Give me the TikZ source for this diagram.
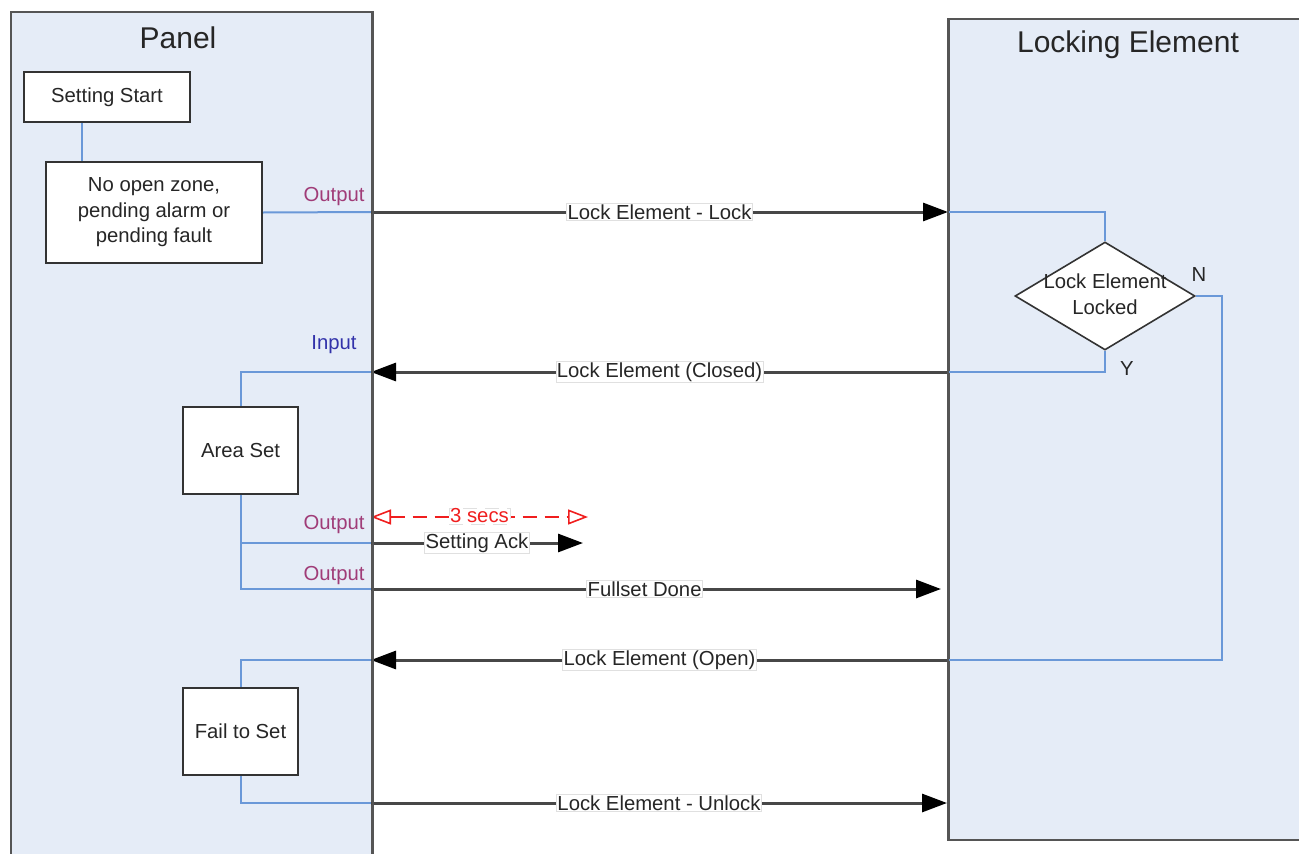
\documentclass[tikz,border=0pt]{standalone}
\usepackage{fontspec}
\setmainfont{Liberation Sans}
\usetikzlibrary{arrows.meta,shapes.geometric}
\definecolor{panelfill}{RGB}{229,236,247}
\definecolor{borderc}{RGB}{85,85,85}
\definecolor{connc}{RGB}{106,152,216}
\definecolor{outc}{RGB}{160,60,120}
\definecolor{inc}{RGB}{50,50,170}
\definecolor{timerc}{RGB}{240,30,30}
\begin{document}
\begin{tikzpicture}[x=1pt,y=-1pt,
  every node/.style={font=\fontsize{20.3}{25.5}\selectfont, text=black!85},
  lane/.style={draw=borderc, line width=2.2pt, fill=panelfill, anchor=north west, inner sep=0},
  lanetitle/.style={font=\fontsize{30}{33}\selectfont, text=black!85},
  stepbox/.style={draw=black!80, line width=2pt, fill=white, align=center, inner sep=0},
  decision/.style={draw=black!80, line width=1.6pt, fill=white, diamond, inner sep=0},
  conn/.style={draw=connc, line width=2pt},
  msg/.style={draw=black!72, line width=3pt, -{Triangle[length=25pt,width=18pt]}, arrows={[color=black]}},
  lbl/.style={fill=white, draw=black!12, line width=0.5pt, inner sep=1pt},
  timer/.style={draw=timerc, line width=1.6pt, dash pattern=on 14pt off 8pt, {Triangle[open,length=20pt,width=15pt]}-{Triangle[open,length=20pt,width=15pt]}},
  portout/.style={text=outc},
  portin/.style={text=inc}
]
\useasboundingbox (0,0) rectangle (1299,854);
\clip (0,0) rectangle (1299,854);

% swimlanes
\node[lane, minimum width=361, minimum height=900] (panel) at (10,11) {};
\node[lanetitle] (paneltitle) at (178,38) {Panel};
\node[lane, minimum width=420, minimum height=821] (lock) at (948,18) {};
\node[lanetitle] (locktitle) at (1128,45) {Locking Element};

% panel steps
\node[stepbox, minimum width=166, minimum height=50] (start) at (107,97) {Setting Start};
\node[stepbox, minimum width=216, minimum height=101] (nozone) at (154,212.5) {No open zone,\\pending alarm or\\pending fault};
\node[stepbox, minimum width=115, minimum height=87] (areaset) at (240.5,450.5) {Area Set};
\node[stepbox, minimum width=115, minimum height=87] (fail) at (240.5,731.5) {Fail to Set};

% decision
\node[decision, minimum width=180, minimum height=108] (dec) at (1105,296) {};
\node[align=center] (dectext) at (1105,294) {Lock Element\\Locked};
\node (nlbl) at (1199,275) {N};
\node (ylbl) at (1127,369) {Y};

% port coordinates on lane borders
\coordinate (p1) at (371,212);
\coordinate (l1) at (948,212);
\coordinate (p2) at (371,372);
\coordinate (l2) at (948,372);
\coordinate (p3) at (371,543);
\coordinate (a3) at (583,543);
\coordinate (p4) at (371,589);
\coordinate (l4) at (941,589);
\coordinate (p5) at (371,660);
\coordinate (l5) at (948,660);
\coordinate (p6) at (371,803);
\coordinate (l6) at (947,803);
\coordinate (t1) at (371,517);
\coordinate (t2) at (588,517);

% port labels
\node[portout] (o1) at (334,197) {Output};
\node[portin] (i1) at (334,345) {Input};
\node[portout] (o2) at (334,525) {Output};
\node[portout] (o3) at (334,576) {Output};

% blue flow connectors
\draw[conn] ([xshift=-25pt]start.south) -- ([xshift=-25pt]start.south |- nozone.north);
\draw[conn] (nozone.east) -- (p1);
\draw[conn] (l1) -- (l1 -| dec.north) -- (dec.north);
\draw[conn] (dec.east) -- (1222,296) -- (1222,660) -- (l5);
\draw[conn] (dec.south) -- (dec.south |- l2) -- (l2);
\draw[conn] (p2) -- (p2 -| areaset.north) -- (areaset.north);
\draw[conn] (areaset.south) -- (areaset.south |- p4) -- (p4);
\draw[conn] (areaset.south |- p3) -- (p3);
\draw[conn] (p5) -- (p5 -| fail.north) -- (fail.north);
\draw[conn] (fail.south) -- (fail.south |- p6) -- (p6);

% messages
\draw[msg] (p1) -- (l1) node[midway, lbl] (m1) {Lock Element - Lock};
\draw[msg] (l2) -- (p2) node[midway, lbl] (m2) {Lock Element (Closed)};
\draw[timer] (t1) -- (t2) node[midway, lbl, text=timerc, yshift=1pt] (m3) {3 secs};
\draw[msg] (p3) -- (a3) node[midway, lbl] (m4) {Setting Ack};
\draw[msg] (p4) -- (l4) node[pos=0.48, lbl] (m5) {Fullset Done};
\draw[msg] (l5) -- (p5) node[midway, lbl] (m6) {Lock Element (Open)};
\draw[msg] (p6) -- (l6) node[midway, lbl] (m7) {Lock Element - Unlock};

% redraw lane borders over connectors
\draw[draw=borderc, line width=2.2pt] (panel.north east) -- (panel.south east);
\draw[draw=borderc, line width=2.2pt] (lock.north west) -- (lock.south west);
\end{tikzpicture}
\end{document}
